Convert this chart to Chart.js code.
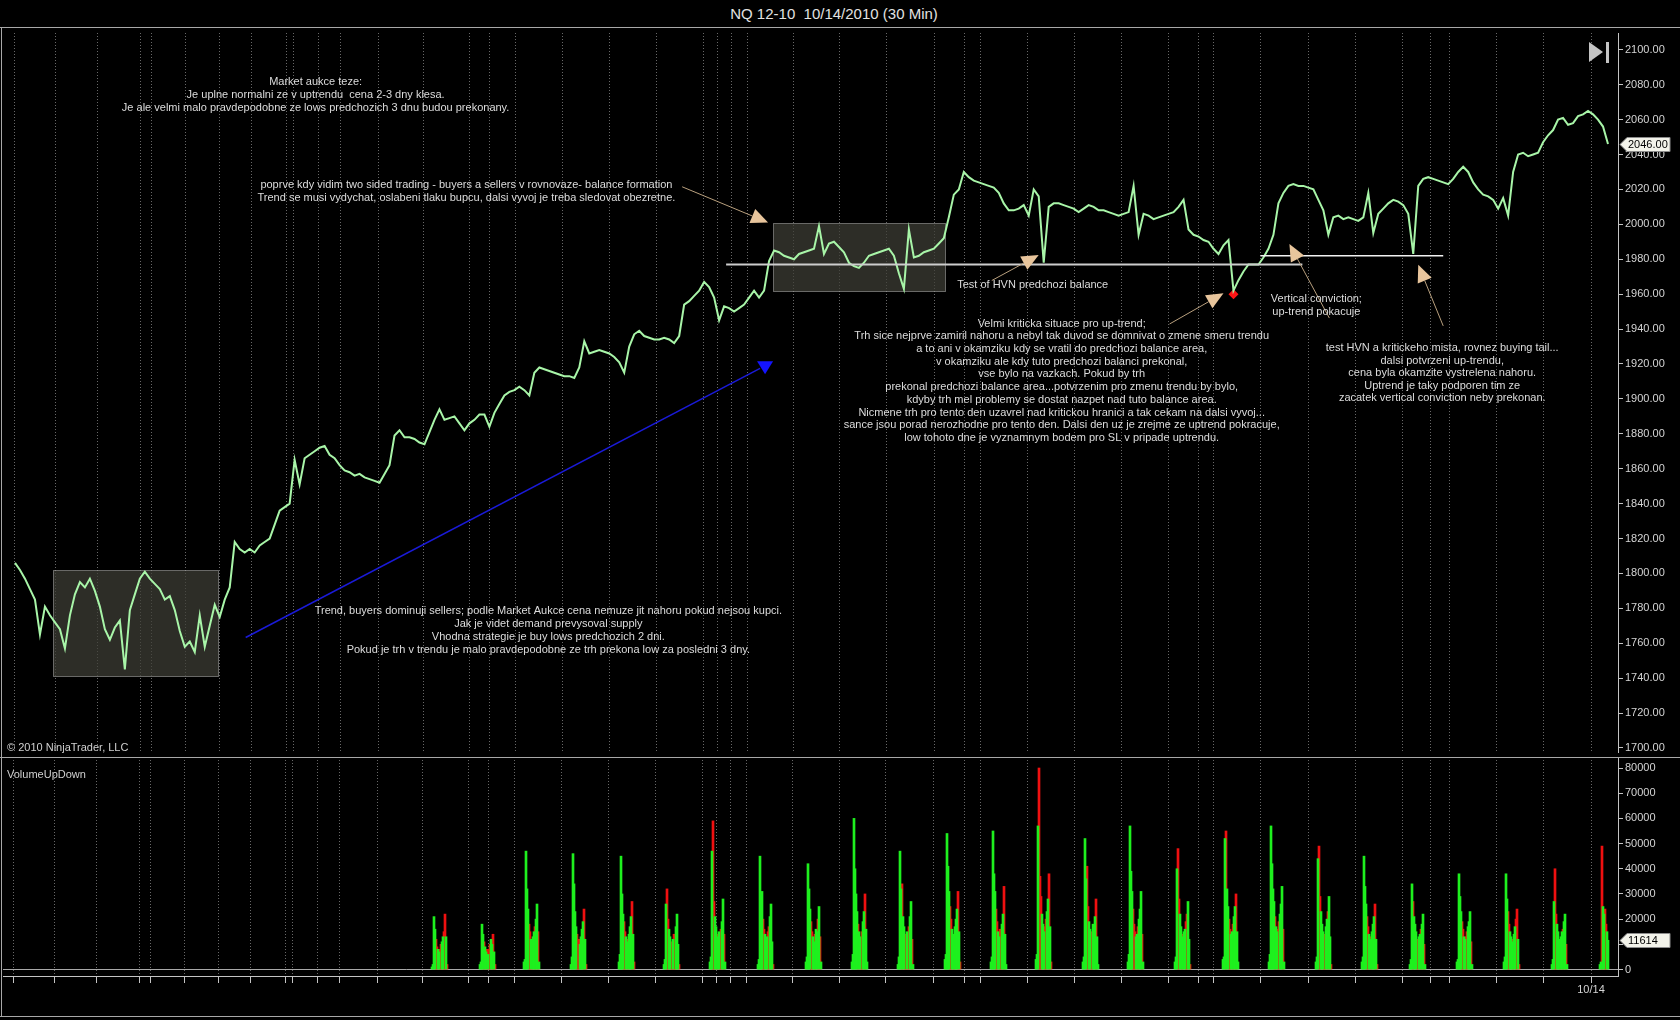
<!DOCTYPE html>
<html>
<head>
<meta charset="utf-8">
<title>NQ 12-10 10/14/2010 (30 Min)</title>
<script src="https://cdn.jsdelivr.net/npm/chart.js@4.4.1/dist/chart.umd.min.js"></script>
<style>
  html, body { margin: 0; padding: 0; background: #000; }
  body { width: 1680px; height: 1020px; position: relative; overflow: hidden;
         font-family: "Liberation Sans", Arial, sans-serif; color: #d0d0d0; }
  #title { position: absolute; left: 0; top: 0; width: 1668px; height: 27px; line-height: 27px;
           text-align: center; font-size: 15px; color: #e2e2e2; }
  .hline { position: absolute; left: 0; width: 1680px; height: 1px; background: #a8a8a8; }
  .vline { position: absolute; left: 1px; top: 27px; width: 1px; height: 990px; background: #a8a8a8; }
  .lbl { position: absolute; left: 7px; font-size: 11px; color: #d0d0d0; line-height: 13px; white-space: nowrap; }
  canvas { position: absolute; left: 0; }
</style>
</head>
<body>
<div id="title">NQ 12-10&nbsp;&nbsp;10/14/2010 (30 Min)</div>
<div class="hline" style="top:27px"></div>
<div class="vline"></div>
<canvas id="price" width="1680" height="729" style="top:28px"></canvas>
<canvas id="volume" width="1680" height="259" style="top:757px"></canvas>
<div class="hline" style="top:757px"></div>
<div class="hline" style="top:1016px"></div>
<div class="lbl" style="top:741px">© 2010 NinjaTrader, LLC</div>
<div class="lbl" style="top:768px">VolumeUpDown</div>

<script>
// ── Data ─────────────────────────────────────────────
// x = bar number (30 min bars), 0 = left edge of the plot

const X_MIN = 0, X_MAX = 1615;

// closes sampled every 5 bars, starting at bar 10
const PRICE_START = 10, PRICE_STEP = 5;
const closes = [
  1806,1802,1797,1791,1785,1765,1781,1776,1772,1768,
  1757,1776,1788,1795,1792,1797,1790,1781,1768,1762,
  1769,1773,1745,1779,1788,1797,1801,1797,1794,1791,
  1785,1787,1779,1767,1758,1761,1755,1776,1758,1770,
  1782,1775,1785,1792,1818,1814,1812,1814,1812,1816,
  1818,1820,1828,1836,1838,1840,1865,1851,1866,1868,
  1870,1872,1873,1868,1866,1862,1859,1858,1856,1857,
  1855,1854,1853,1852,1857,1862,1879,1882,1878,1878,
  1877,1875,1874,1881,1888,1894,1888,1889,1890,1886,
  1882,1886,1888,1891,1891,1884,1892,1897,1902,1904,
  1905,1907,1905,1902,1915,1918,1917,1916,1915,1914,
  1913,1913,1912,1918,1933,1926,1927,1928,1927,1926,
  1924,1921,1915,1930,1937,1939,1936,1935,1934,1934,
  1935,1934,1932,1936,1954,1956,1959,1962,1967,1964,
  1958,1945,1953,1952,1950,1952,1954,1958,1962,1958,
  1962,1979,1985,1984,1982,1981,1980,1983,1984,1985,
  1986,1999,1983,1989,1990,1987,1984,1978,1976,1975,
  1978,1982,1983,1984,1985,1986,1982,1972,1963,1997,
  1981,1982,1984,1985,1986,1989,1992,2004,2017,2020,
  2030,2027,2025,2024,2023,2022,2021,2018,2012,2008,
  2008,2009,2011,2005,2020,2016,1978,2010,2012,2012,
  2011,2010,2009,2007,2009,2011,2010,2008,2008,2007,
  2006,2005,2006,2007,2022,1994,2006,2005,2003,2004,
  2005,2006,2007,2010,2014,1997,1994,1993,1991,1990,
  1986,1983,1988,1991,1962,1968,1973,1977,1977,1977,
  1981,1986,1994,2012,2018,2022,2023,2022,2022,2021,
  2020,2014,2008,1994,2004,2005,2003,2004,2003,2002,
  2004,2018,1995,2006,2009,2012,2014,2013,2011,2006,
  1983,2022,2026,2027,2026,2025,2024,2023,2026,2030,
  2033,2030,2024,2020,2017,2016,2014,2009,2015,2005,
  2030,2040,2041,2039,2040,2041,2047,2051,2054,2060,
  2061,2057,2058,2062,2063,2065,2063,2060,2056,2046
];

const priceTicks = [1700,1720,1740,1760,1780,1800,1820,1840,1860,1880,1900,
                    1920,1940,1960,1980,2000,2020,2040,2060,2080,2100];
const volTicks = [0,10000,20000,30000,40000,50000,60000,70000,80000];

// time axis ticks (bar numbers) and the one labelled date
const timeTicks = [10,51,93,136,147,181,215,247,282,289,314,336,374,419,465,485,511,
                   558,605,652,699,713,727,743,789,836,883,931,961,977,1024,1071,
                   1118,1165,1195,1210,1257,1305,1352,1399,1427,1446,1493,1540,1588];
const DATE_TICK = 1588, DATE_LABEL = '10/14';

// day sessions: first regular-session bar, volumes from 2 bars before it, u = up bar, d = down bar
const sessionOpen = [431,479,523,570,618,663,709,757,805,851,897,944,990,
                     1035,1082,1127,1174,1222,1268,1315,1361,1409,1456,1503,1551,1599];
const sessionVol = [
  [1000,2000,21000,16000,12000,9000,8000,7000,8000,10000,11000,13000,15000,22000,13000,2000],
  [2000,3000,18000,14000,11000,9000,7000,8000,6000,8000,10000,12000,10000,14000,7000,2000],
  [3000,4000,47000,32000,24000,18000,15000,12000,11000,13000,15000,17000,20000,26000,15000,3000],
  [2000,5000,46000,34000,23000,17000,14000,11000,12000,10000,13000,16000,19000,24000,12000,2000],
  [3000,6000,45000,30000,22000,19000,15000,13000,11000,12000,14000,17000,21000,27000,14000,3000],
  [2000,4000,26000,32000,20000,16000,13000,11000,10000,12000,14000,13000,17000,22000,10000,2000],
  [3000,5000,47000,59000,27000,21000,17000,14000,13000,15000,12000,16000,19000,28000,14000,3000],
  [2000,4000,45000,30000,31000,20000,16000,14000,12000,13000,15000,17000,21000,26000,11000,2000],
  [3000,5000,42000,32000,24000,19000,15000,13000,11000,14000,16000,15000,20000,25000,13000,3000],
  [3000,6000,60000,40000,30000,23000,18000,15000,13000,12000,15000,19000,23000,30000,16000,3000],
  [2000,5000,47000,32000,34000,21000,17000,14000,12000,15000,13000,17000,21000,27000,12000,2000],
  [4000,6000,54000,41000,31000,25000,20000,16000,14000,13000,17000,20000,24000,31000,15000,3000],
  [3000,5000,55000,38000,31000,24000,19000,15000,13000,16000,14000,18000,22000,33000,14000,2000],
  [4000,6000,57000,80000,37000,29000,22000,18000,15000,17000,20000,23000,28000,38000,17000,3000],
  [3000,5000,52000,36000,41000,25000,19000,16000,14000,15000,18000,17000,21000,28000,13000,2000],
  [3000,6000,57000,39000,31000,24000,18000,15000,13000,14000,17000,20000,24000,31000,14000,3000],
  [3000,5000,40000,48000,28000,22000,17000,14000,13000,15000,16000,19000,22000,27000,12000,2000],
  [4000,5000,52000,55000,32000,25000,20000,16000,14000,15000,18000,21000,25000,30000,15000,3000],
  [3000,6000,57000,42000,32000,27000,21000,17000,15000,16000,19000,22000,26000,33000,16000,3000],
  [3000,5000,44000,49000,29000,23000,18000,15000,13000,14000,17000,20000,23000,29000,13000,2000],
  [3000,5000,45000,33000,26000,21000,17000,14000,12000,13000,15000,18000,21000,26000,12000,2000],
  [2000,4000,34000,27000,21000,18000,15000,12000,11000,13000,14000,16000,18000,22000,10000,2000],
  [3000,4000,38000,29000,23000,19000,16000,13000,12000,13000,15000,17000,19000,23000,11000,2000],
  [3000,5000,38000,28000,23000,18000,15000,13000,11000,12000,14000,17000,20000,24000,12000,2000],
  [2000,4000,27000,40000,22000,18000,15000,12000,11000,13000,15000,16000,19000,22000,10000,2000],
  [2000,3000,49000,25000,22000,24000,18000,15000,11614]
];
const sessionDir = [
  'uuuudduudduuddud','uuuuduududduudud','uuuuudduduuduudu','uuuuuuddduuuudud',
  'uuuuudduuduuudud','uuudduuddudduuud','uuudduuduudduudu','uuuuudduuudduuud',
  'uuuuudduuduududu','uuuuuuduudduuduu','uuuuduuddudduudu','uuuuudduuduuudud',
  'uuuuudduudduuduu','uuuddduuudduudud','uuuudduudduuuduu','uuuuuddduuduuudu',
  'uuudduuduuudduud','uuuduudduuduuduu','uuuuuuduudduuudu','uuudduuudduuduud',
  'uuuuudduuduuudud','uuuduuudduuduudu','uuuuudduudduuudu','uuuudduuuduuddud',
  'uuudduuuduuduudu','uuduudduu'
];

// drawn levels / markers
const hvnLevel = 1977, hvnFrom = 722, hvnTo = 1299;
const hvn2Level = 1982, hvn2From = 1257, hvn2To = 1440;
const criticalLow = { x: 1230, y: 1960 };

const balanceBoxes = [
  { from: 769, to: 941, high: 2000.6, low: 1961.6 },
  { from: 48, to: 213, high: 1801.7, low: 1741.2 },
];

const notes = [
  { bar: 311, price: 2081.4, gap: 13, lines: [
    'Market aukce teze:',
    'Je uplne normalni ze v uptrendu  cena 2-3 dny klesa.',
    'Je ale velmi malo pravdepodobne ze lows predchozich 3 dnu budou prekonany.'] },
  { bar: 462, price: 2022.6, gap: 13, lines: [
    'poprve kdy vidim two sided trading - buyers a sellers v rovnovaze- balance formation',
    'Trend se musi vydychat, oslabeni tlaku bupcu, dalsi vyvoj je treba sledovat obezretne.'] },
  { bar: 1029, price: 1965.0, gap: 13, lines: ['Test of HVN predchozi balance'] },
  { bar: 1058, price: 1943.1, gap: 12.7, lines: [
    'Velmi kriticka situace pro up-trend;',
    'Trh sice nejprve zamiril nahoru a nebyl tak duvod se domnivat o zmene smeru trendu',
    'a to ani v okamziku kdy se vratil do predchozi balance area,',
    'v okamziku ale kdy tuto predchozi balanci prekonal,',
    'vse bylo na vazkach. Pokud by trh',
    'prekonal predchozi balance area...potvrzenim pro zmenu trendu by bylo,',
    'kdyby trh mel problemy se dostat nazpet nad tuto balance area.',
    'Nicmene trh pro tento den uzavrel nad kritickou hranici a tak cekam na dalsi vyvoj...',
    'sance jsou porad nerozhodne pro tento den. Dalsi den uz je zrejme ze uptrend pokracuje,',
    'low tohoto dne je vyznamnym bodem pro SL v pripade uptrendu.'] },
  { bar: 1313, price: 1957.2, gap: 13, lines: ['Vertical conviction;', 'up-trend pokacuje'] },
  { bar: 1439, price: 1928.9, gap: 12.5, lines: [
    'test HVN a kritickeho mista, rovnez buying tail...',
    'dalsi potvrzeni up-trendu,',
    'cena byla okamzite vystrelena nahoru.',
    'Uptrend je taky podporen tim ze',
    'zacatek vertical conviction neby prekonan.'] },
  { bar: 544, price: 1778.4, gap: 12.8, lines: [
    'Trend, buyers dominuji sellers; podle Market Aukce cena nemuze jit nahoru pokud nejsou kupci.',
    'Jak je videt demand prevysoval supply',
    'Vhodna strategie je buy lows predchozich 2 dni.',
    'Pokud je trh v trendu je malo pravdepodobne ze trh prekona low za posledni 3 dny.'] },
];

const tanArrows = [
  { from: [678, 2021.5], to: [764, 2001.0] },
  { from: [988, 1967.8], to: [1035, 1982.4] },
  { from: [1166, 1942.9], to: [1220, 1960.5] },
  { from: [1326, 1946.3], to: [1286, 1988.7] },
  { from: [1440, 1941.8], to: [1415, 1976.8] },
];
const blueArrow = { from: [241, 1763.3], to: [756, 1917.5] };

// ── Styles ───────────────────────────────────────────

const FONT = '"Liberation Sans", Arial, sans-serif';
const AXIS = '#c4c4c4';
const GRID = 'rgba(190,190,190,0.55)';
const PRICE_MIN = 1697.7, PRICE_MAX = 2109.6;
const VOL_MIN = -2580, VOL_MAX = 84370;

Chart.defaults.font.family = FONT;
Chart.defaults.font.size = 11;
Chart.defaults.color = '#d4d4d4';

const pricePts = closes.map((c, i) => ({ x: PRICE_START + i * PRICE_STEP, y: c }));

const upBars = [], downBars = [];
sessionOpen.forEach((open, i) => {
  sessionVol[i].forEach((v, j) => {
    const pt = { x: open - 2 + j, y: v };
    (sessionDir[i][j] === 'd' ? downBars : upBars).push(pt);
  });
});
const lastVol = sessionVol[sessionVol.length - 1].slice(-1)[0];

function timeAxis(height, showLabels) {
  return {
    type: 'linear', min: X_MIN, max: X_MAX, offset: false, bounds: 'data',
    afterBuildTicks: s => { s.ticks = timeTicks.map(v => ({ value: v })); },
    afterFit: s => { s.height = height; s.paddingLeft = 0; s.paddingRight = 0; },
    ticks: { display: showLabels, autoSkip: false, maxRotation: 0, padding: 0, color: '#d4d4d4',
             callback: v => (v === DATE_TICK ? DATE_LABEL : '') },
    grid: { color: GRID, offset: false, drawTicks: showLabels, tickLength: 7, tickColor: AXIS },
    border: { display: showLabels, color: AXIS, dash: [1, 2] },
  };
}

function valueAxis(min, max, ticks, fmt, zeroLine) {
  return {
    position: 'right', min, max, bounds: 'data',
    afterBuildTicks: s => { s.ticks = ticks.map(v => ({ value: v })); },
    afterFit: s => { s.width = 62; s.paddingTop = 0; s.paddingBottom = 0; },
    ticks: { padding: 2, color: '#d4d4d4', callback: fmt },
    grid: {
      drawOnChartArea: zeroLine, tickLength: 5, tickColor: AXIS,
      color: c => (zeroLine && c.tick && c.tick.value === 0 ? '#a8a8a8' : 'rgba(0,0,0,0)'),
    },
    border: { color: AXIS },
  };
}

function drawTag(ctx, x0, yy, text) {
  ctx.beginPath();
  ctx.moveTo(x0, yy);
  ctx.lineTo(x0 + 7, yy - 7);
  ctx.lineTo(x0 + 50, yy - 7);
  ctx.lineTo(x0 + 50, yy + 7);
  ctx.lineTo(x0 + 7, yy + 7);
  ctx.closePath();
  ctx.fillStyle = '#f3f3ea';
  ctx.fill();
  ctx.strokeStyle = '#8c8c8c';
  ctx.lineWidth = 1;
  ctx.stroke();
  ctx.fillStyle = '#000';
  ctx.font = '11px ' + FONT;
  ctx.textAlign = 'left';
  ctx.textBaseline = 'middle';
  ctx.fillText(text, x0 + 8, yy + 0.5);
}

function drawArrow(ctx, x0, y0, x1, y1, lineColor, headColor) {
  const a = Math.atan2(y1 - y0, x1 - x0);
  const len = 17, half = 7.5;
  const bx = x1 - Math.cos(a) * len, by = y1 - Math.sin(a) * len;
  ctx.strokeStyle = lineColor;
  ctx.lineWidth = 1;
  ctx.beginPath();
  ctx.moveTo(x0, y0);
  ctx.lineTo(bx, by);
  ctx.stroke();
  ctx.fillStyle = headColor;
  ctx.beginPath();
  ctx.moveTo(x1, y1);
  ctx.lineTo(bx - Math.sin(a) * half, by + Math.cos(a) * half);
  ctx.lineTo(bx + Math.sin(a) * half, by - Math.cos(a) * half);
  ctx.closePath();
  ctx.fill();
}

// ── Drawing-tool overlay for the price panel ─────────

const drawingTools = {
  id: 'drawingTools',
  beforeDatasetsDraw(chart) {
    const { ctx, scales: { x, y } } = chart;
    ctx.save();
    balanceBoxes.forEach(b => {
      const x0 = Math.round(x.getPixelForValue(b.from)) + 0.5;
      const x1 = Math.round(x.getPixelForValue(b.to)) + 0.5;
      const y0 = Math.round(y.getPixelForValue(b.high)) + 0.5;
      const y1 = Math.round(y.getPixelForValue(b.low)) + 0.5;
      ctx.fillStyle = 'rgba(62,62,54,0.72)';
      ctx.fillRect(x0, y0, x1 - x0, y1 - y0);
      ctx.setLineDash([1, 1]);
      ctx.strokeStyle = '#bdbdbd';
      ctx.lineWidth = 1;
      ctx.strokeRect(x0, y0, x1 - x0, y1 - y0);
    });
    ctx.restore();
  },
  afterDatasetsDraw(chart) {
    const { ctx, scales: { x, y } } = chart;
    ctx.save();
    tanArrows.forEach(a => drawArrow(ctx,
      x.getPixelForValue(a.from[0]), y.getPixelForValue(a.from[1]),
      x.getPixelForValue(a.to[0]), y.getPixelForValue(a.to[1]),
      '#b9a07e', '#e8c59c'));

    // blue trend line with its down marker
    const bx0 = x.getPixelForValue(blueArrow.from[0]), by0 = y.getPixelForValue(blueArrow.from[1]);
    const bx1 = x.getPixelForValue(blueArrow.to[0]), by1 = y.getPixelForValue(blueArrow.to[1]);
    ctx.strokeStyle = '#1a1ad8';
    ctx.lineWidth = 1.5;
    ctx.beginPath(); ctx.moveTo(bx0, by0); ctx.lineTo(bx1, by1); ctx.stroke();
    ctx.fillStyle = '#1414ff';
    ctx.beginPath();
    ctx.moveTo(bx1 - 3, by1 - 7); ctx.lineTo(bx1 + 13, by1 - 7); ctx.lineTo(bx1 + 5, by1 + 6);
    ctx.closePath(); ctx.fill();

    ctx.font = '11px ' + FONT;
    ctx.fillStyle = '#dcdcdc';
    ctx.textAlign = 'center';
    ctx.textBaseline = 'middle';
    notes.forEach(n => {
      const cx = x.getPixelForValue(n.bar), cy = y.getPixelForValue(n.price);
      n.lines.forEach((t, i) => ctx.fillText(t, cx, cy + i * n.gap));
    });
    ctx.restore();
  },
  afterDraw(chart) {
    const { ctx, chartArea: a, scales: { y } } = chart;
    ctx.save();
    // scroll-to-end button
    ctx.fillStyle = '#c4c4c4';
    ctx.beginPath();
    ctx.moveTo(a.right - 29, a.top + 9); ctx.lineTo(a.right - 29, a.top + 29); ctx.lineTo(a.right - 15, a.top + 19);
    ctx.closePath(); ctx.fill();
    ctx.fillRect(a.right - 12, a.top + 9, 3, 21);
    const last = closes[closes.length - 1];
    drawTag(ctx, a.right + 2, Math.round(y.getPixelForValue(last)) + 0.5, last.toFixed(2));
    ctx.restore();
  },
};

const volumeTag = {
  id: 'volumeTag',
  afterDraw(chart) {
    const { ctx, chartArea: a, scales: { y } } = chart;
    ctx.save();
    drawTag(ctx, a.right + 2, Math.round(y.getPixelForValue(lastVol)) + 0.5, String(lastVol));
    ctx.restore();
  },
};

// ── Charts ───────────────────────────────────────────

new Chart(document.getElementById('price'), {
  type: 'line',
  data: {
    datasets: [
      { label: 'HVN', data: [{ x: hvnFrom, y: hvnLevel }, { x: hvnTo, y: hvnLevel }],
        borderColor: '#cdcdcd', borderWidth: 2, pointRadius: 0 },
      { label: 'HVN 2', data: [{ x: hvn2From, y: hvn2Level }, { x: hvn2To, y: hvn2Level }],
        borderColor: '#f2f2f2', borderWidth: 1.5, pointRadius: 0 },
      { label: 'NQ 12-10', data: pricePts, borderColor: '#a8f5a8', borderWidth: 2,
        pointRadius: 0, tension: 0 },
      { label: 'Low', type: 'scatter', data: [criticalLow], pointStyle: 'rectRot', pointRadius: 5,
        backgroundColor: '#ff1414', borderWidth: 0 },
    ],
  },
  options: {
    responsive: false, animation: false, devicePixelRatio: 1, events: [],
    layout: { padding: { left: 3, top: 0, right: 0, bottom: 0 } },
    plugins: { legend: { display: false }, tooltip: { enabled: false } },
    scales: {
      x: timeAxis(0, false),
      y: valueAxis(PRICE_MIN, PRICE_MAX, priceTicks, v => v.toFixed(2), false),
    },
  },
  plugins: [drawingTools],
});

new Chart(document.getElementById('volume'), {
  type: 'bar',
  data: {
    datasets: [
      { label: 'Up', data: upBars, backgroundColor: '#1ef01e', barThickness: 2, grouped: false, borderWidth: 0 },
      { label: 'Down', data: downBars, backgroundColor: '#f01010', barThickness: 2, grouped: false, borderWidth: 0 },
    ],
  },
  options: {
    responsive: false, animation: false, devicePixelRatio: 1, events: [],
    layout: { padding: { left: 3, top: 0, right: 0, bottom: 0 } },
    plugins: { legend: { display: false }, tooltip: { enabled: false } },
    scales: {
      x: timeAxis(40, true),
      y: valueAxis(VOL_MIN, VOL_MAX, volTicks, v => String(v), true),
    },
  },
  plugins: [volumeTag],
});
</script>
</body>
</html>
